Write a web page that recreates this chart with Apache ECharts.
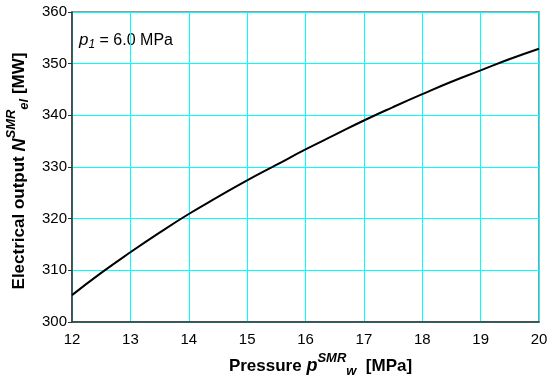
<!DOCTYPE html>
<html>
<head>
<meta charset="utf-8">
<script src="https://cdn.jsdelivr.net/npm/echarts@6/dist/echarts.min.js"></script>
<style>html,body{margin:0;padding:0;background:#fff;}#c{width:550px;height:383px;}</style>
</head>
<body>
<div id="c"></div>
<script>
var pressure = [12, 12.5, 13, 13.5, 14, 14.5, 15, 15.5, 16, 16.5, 17, 17.5, 18, 18.5, 19, 19.5, 20];
var output = [305.2, 309.5, 313.5, 317.3, 320.9, 324.2, 327.4, 330.4, 333.4, 336.2, 339.0, 341.6, 344.1, 346.5, 348.7, 350.9, 352.9];
var xTicks = [12, 13, 14, 15, 16, 17, 18, 19, 20];
var yTicks = [300, 310, 320, 330, 340, 350, 360];

var FONT = '"Liberation Sans", Arial, sans-serif';
var chart = echarts.init(document.getElementById('c'), null, {renderer: 'canvas'});
var data = pressure.map(function (p, i) { return [p, output[i]]; });

function titleRich() {
  return {
    b: {fontSize: 17, fontWeight: 'bold', fontFamily: FONT, color: '#000'},
    bi: {fontSize: 18, fontWeight: 'bold', fontStyle: 'italic', fontFamily: FONT, color: '#000'},
    sup: {fontSize: 13, fontWeight: 'bold', fontStyle: 'italic', fontFamily: FONT, color: '#000', padding: [0, 0, 16, 0]},
    sub: {fontSize: 13, fontWeight: 'bold', fontStyle: 'italic', fontFamily: FONT, color: '#000', padding: [10, 0, 0, 0]}
  };
}

chart.setOption({
  animation: false,
  backgroundColor: '#fff',
  grid: {left: 72, right: 11, top: 12, bottom: 61, outerBoundsMode: 'none', containLabel: false,
         show: true, borderColor: '#777', borderWidth: 1.5, backgroundColor: 'transparent'},
  xAxis: {
    type: 'value', min: xTicks[0], max: xTicks[xTicks.length - 1], interval: 1,
    axisLine: {show: true, lineStyle: {color: '#333', width: 1.5}},
    axisTick: {show: false},
    splitLine: {show: true, lineStyle: {color: '#00ffff', width: 1}},
    axisLabel: {color: '#000', fontSize: 15, fontFamily: FONT, margin: 10},
    name: '{b|Pressure }{bi|p}{sup|SMR}{sub|w}{b|  [MPa]}',
    nameLocation: 'middle', nameGap: 28,
    nameTextStyle: {rich: titleRich(), padding: [0, 0, 0, 30]}
  },
  yAxis: {
    type: 'value', min: yTicks[0], max: yTicks[yTicks.length - 1], interval: 10,
    axisLine: {show: true, lineStyle: {color: '#333', width: 1.5}},
    axisTick: {show: true, length: 4, lineStyle: {color: '#333'}},
    splitLine: {show: true, lineStyle: {color: '#00ffff', width: 1}},
    axisLabel: {color: '#000', fontSize: 15, fontFamily: FONT, margin: 5},
    name: '{b|Electrical output }{bi|N}{sup|SMR}{sub|el}{b| [MW]}',
    nameLocation: 'middle', nameGap: 37, nameRotate: 90,
    nameTextStyle: {rich: titleRich(), padding: [0, 8, 0, 0]}
  },
  graphic: [{
    type: 'text', left: 79, top: 32,
    style: {
      text: '{i|p}{s|1}{n| = 6.0 MPa}',
      rich: {
        i: {fontSize: 17, fontStyle: 'italic', fontFamily: FONT, fill: '#000'},
        s: {fontSize: 12, fontStyle: 'italic', fontFamily: FONT, fill: '#000', padding: [8, 0, 0, 0]},
        n: {fontSize: 16, fontFamily: FONT, fill: '#000'}
      }
    }
  }],
  series: [{
    type: 'line', data: data, smooth: true, showSymbol: false,
    lineStyle: {color: '#000', width: 2}
  }]
});
</script>
</body>
</html>
